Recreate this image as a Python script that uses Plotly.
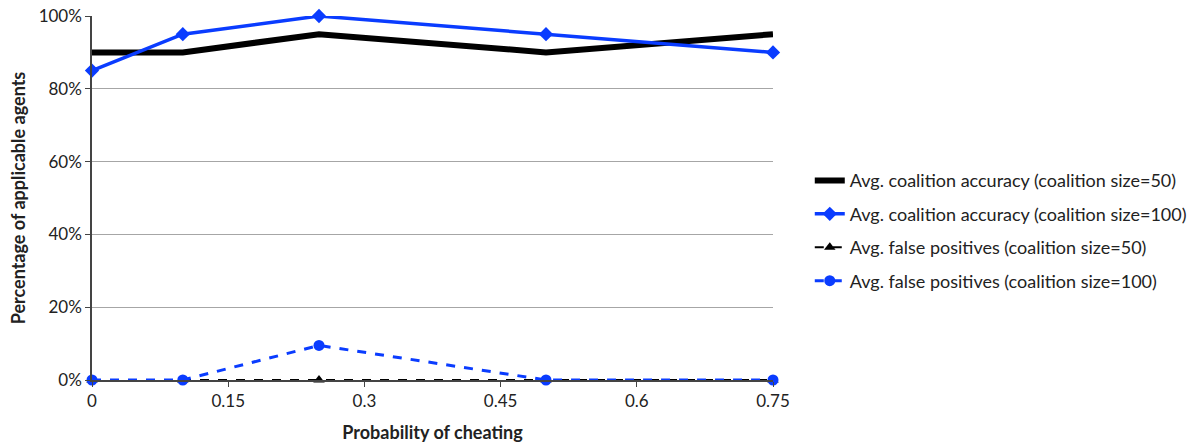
import plotly.graph_objects as go

prob = [0, 0.1, 0.25, 0.5, 0.75]
acc_50 = [90, 90, 95, 90, 95]
acc_100 = [85, 95, 100, 95, 90]
fp_50 = [0, 0, 0, 0, 0]
fp_100 = [0, 0, 9.5, 0, 0]

names = [
    "Avg. coalition accuracy (coalition size=50)",
    "Avg. coalition accuracy (coalition size=100)",
    "Avg. false positives (coalition size=50)",
    "Avg. false positives (coalition size=100)",
]

FONT = "Lato, Open Sans, sans-serif"

fig = go.Figure()
fig.add_trace(go.Scatter(x=prob, y=acc_50, name=names[0], mode="lines",
                         line=dict(color="black", width=6), legendgroup="a"))
fig.add_trace(go.Scatter(x=prob, y=acc_100, name=names[1], mode="lines+markers",
                         line=dict(color="#0a3cff", width=3.5),
                         marker=dict(symbol="diamond", size=11, color="#0a3cff"),
                         legendgroup="b"))
fig.add_trace(go.Scatter(x=prob, y=fp_50, name=names[2], mode="lines+markers",
                         line=dict(color="black", width=2, dash="dash"),
                         marker=dict(symbol="triangle-up", size=10, color="black"),
                         legendgroup="c"))
fig.add_trace(go.Scatter(x=prob, y=fp_100, name=names[3], mode="lines+markers",
                         line=dict(color="#0a3cff", width=3, dash="dash"),
                         marker=dict(symbol="circle", size=11, color="#0a3cff"),
                         legendgroup="d"))
fig.update_traces(cliponaxis=False)

fig.update_layout(
    width=1197, height=444,
    margin=dict(l=92, r=424, t=16, b=64, autoexpand=False),
    paper_bgcolor="white", plot_bgcolor="white",
    font=dict(family=FONT, size=17, color="#222"),
    legend=dict(x=1.054, y=0.41, xanchor="left", yanchor="middle",
                tracegroupgap=7, font=dict(size=18, color="#222"),
                itemwidth=30),
    xaxis=dict(range=[0, 0.75], tickmode="array",
               tickvals=[0, 0.15, 0.3, 0.45, 0.6, 0.75],
               ticktext=["0", "0.15", "0.3", "0.45", "0.6", "0.75"],
               showgrid=False, zeroline=False, showline=True,
               linecolor="#444", linewidth=1.5, automargin=False,
               ticks="outside", ticklen=5, tickcolor="#444",
               title=dict(text="<b>Probability of cheating</b>", standoff=16,
                          font=dict(size=18)),
               tickfont=dict(size=17)),
    yaxis=dict(range=[0, 100], tickmode="array",
               tickvals=[0, 20, 40, 60, 80, 100],
               ticktext=["0%", "20%", "40%", "60%", "80%", "100%"],
               showgrid=True, gridcolor="#a6a6a6", gridwidth=1,
               zeroline=False, showline=True, linecolor="#444", linewidth=1.5,
               automargin=False,
               ticks="outside", ticklen=5, tickcolor="#444",
               title=dict(text="<b>Percentage of applicable agents</b>", standoff=8,
                          font=dict(size=18)),
               tickfont=dict(size=17)),
)

fig.write_html("out.html")
